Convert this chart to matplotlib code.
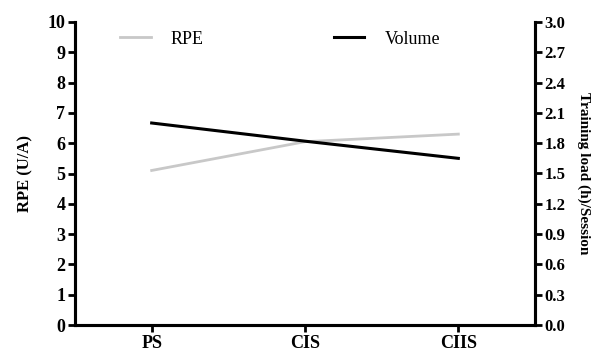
import matplotlib.pyplot as plt
import numpy as np

plt.rcParams['font.family'] = ['Liberation Serif', 'DejaVu Serif']

phases = ["PS", "CIS", "CIIS"]
rpe = [5.1, 6.05, 6.3]
volume = [2.0, 1.82, 1.65]
rpe_ticks = list(range(0, 11))
vol_ticks = [0.0, 0.3, 0.6, 0.9, 1.2, 1.5, 1.8, 2.1, 2.4, 2.7, 3.0]

fig = plt.figure(figsize=(6.13, 3.55), dpi=100)
ax1 = fig.add_axes([75 / 613, 1 - 325 / 355, 460 / 613, 303 / 355])
ax2 = ax1.twinx()

x = np.arange(len(phases))
l1, = ax1.plot(x, rpe, color="#c8c8c8", lw=2, label="RPE")
l2, = ax2.plot(x, volume, color="black", lw=2.2, label="Volume")

ax1.set_xlim(-0.5, 2.5)
ax1.set_ylim(0, 10)
ax2.set_ylim(0, 3.0)
ax1.set_xticks(x)
ax1.set_xticklabels(phases, fontsize=13, fontweight="bold")
ax1.set_yticks(rpe_ticks)
ax1.set_yticklabels([str(t) for t in rpe_ticks], fontsize=13, fontweight="bold")
ax2.set_yticks(vol_ticks)
ax2.set_yticklabels(["%.1f" % t for t in vol_ticks], fontsize=12, fontweight="bold")

for ax in (ax1, ax2):
    ax.spines["top"].set_visible(False)
    for s in ax.spines.values():
        s.set_linewidth(2.2)
    ax.tick_params(width=2, length=5, pad=2)

ax1.set_ylabel("RPE (U/A)", fontsize=12, fontweight="bold", labelpad=10)
ax2.set_ylabel("Training load (h)/Session", fontsize=11, fontweight="bold",
               rotation=-90, labelpad=18)

ax1.legend(handles=[l1, l2], loc="upper left", bbox_to_anchor=(0.063, 1.025),
           ncol=2, frameon=False, fontsize=13, columnspacing=7.2,
           handlelength=1.7, handletextpad=1.1)

fig.savefig("out.png", dpi=100)
